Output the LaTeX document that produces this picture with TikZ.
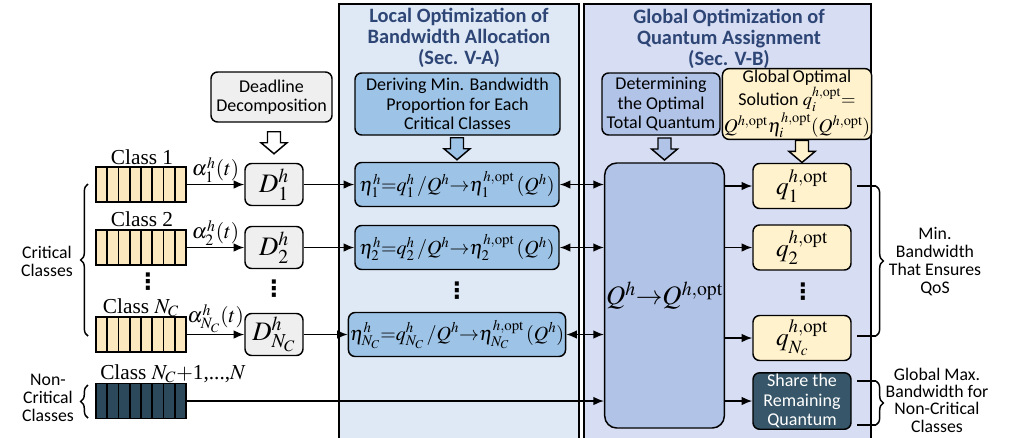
\documentclass[tikz,border=0pt]{standalone}
\usepackage{mathptmx}
\usepackage{fontspec}
\setmainfont{Liberation Serif}
\newfontfamily\calib{Carlito}
\newfontfamily\dvsans{DejaVu Sans}
\usetikzlibrary{arrows.meta,decorations.pathreplacing,calc}

\definecolor{localbg}{HTML}{DFE9F5}
\definecolor{globalbg}{HTML}{D7DDF3}
\definecolor{etablue}{HTML}{9DC3E6}
\definecolor{qblue}{HTML}{B1C3E6}
\definecolor{lightyel}{HTML}{FFF2CC}
\definecolor{queueyel}{HTML}{FCE8BF}
\definecolor{darkslate}{HTML}{2C495B}
\definecolor{sharebg}{HTML}{375669}
\definecolor{boxgray}{HTML}{EFEFEF}
\definecolor{titleblue}{HTML}{2E4676}

\newcommand\sfbody{\calib\fontsize{13.3}{13.5}\selectfont}
\newcommand\sfbox{\calib\fontsize{13.5}{14.6}\selectfont}
\newcommand\sftitle{\calib\bfseries\fontsize{15.3}{15.8}\selectfont}

\tikzset{
  panel/.style={draw=black, line width=1.5pt},
  titletext/.style={align=center, font=\sftitle, text=titleblue, inner sep=0pt},
  box/.style={draw=black, line width=1.1pt, rounded corners=5pt, inner sep=1pt,
    align=center, font=\sfbox},
  graybox/.style={box, fill=boxgray},
  dbox/.style={graybox, minimum width=43.5pt, minimum height=31.5pt,
    font=\fontsize{20}{20}\selectfont},
  etabox/.style={box, fill=etablue, minimum width=153pt, minimum height=33pt,
    font=\fontsize{15}{15}\selectfont},
  qbox/.style={box, fill=lightyel, minimum width=73.5pt, minimum height=33.75pt,
    font=\fontsize{19}{19}\selectfont},
  queue/.style={draw=black, line width=1.3pt, minimum width=67.5pt,
    minimum height=26.25pt, inner sep=0pt,
    path picture={
      \foreach \i in {1,...,7}
        \draw[line width=1.3pt]
          ($(path picture bounding box.north west)!\i/8!(path picture bounding box.north east)$) --
          ($(path picture bounding box.south west)!\i/8!(path picture bounding box.south east)$);
    }},
  classlbl/.style={font=\fontsize{16}{16}\selectfont, inner sep=0pt, anchor=base},
  alphalbl/.style={font=\fontsize{16}{16}\selectfont, inner sep=1pt},
  conn/.style={line width=1.2pt, -{Latex[length=8pt,width=6.5pt]}},
  dconn/.style={line width=1.2pt, {Latex[length=8pt,width=6.5pt]}-{Latex[length=8pt,width=6.5pt]}},
  plainline/.style={line width=1.1pt},
  bracestyle/.style={line width=1.1pt, decorate, decoration={brace, amplitude=5.5pt}},
  sidelabel/.style={align=center, font=\sfbody, inner sep=0pt},
  vdots/.style={font=\dvsans\bfseries\fontsize{17}{17}\selectfont, inner sep=0pt},
  pics/blockdown/.style={code={
    \draw[line width=1.1pt, fill=#1, line join=miter]
      (-6.5,-11) -- (6.5,-11) -- (6.5,0) -- (13,0) -- (0,11) -- (-13,0) -- (-6.5,0) -- cycle;
  }},
  pics/blockdown/.default=white
}

\begin{document}
\begin{tikzpicture}[x=0.75pt, y=-0.75pt]
\useasboundingbox (0,0) rectangle (1017,437);

% the two optimisation stages
\begin{scope}
  \clip (0,0) rectangle (1017,437);
  \draw[panel, fill=localbg] (339,4) rectangle (579,460);
  \draw[panel, fill=globalbg] (584,4) rectangle (871,460);
\end{scope}

\node[titletext] (ltitle) at (459,37.5) {Local Optimization of\\Bandwidth Allocation\\(Sec. V-A)};
\node[titletext] (gtitle) at (729,39) {Global Optimization of\\Quantum Assignment\\(Sec. V-B)};

% upper description boxes
\node[graybox, minimum width=90.75pt, minimum height=37.5pt] (dead) at (271.5,97)
  {Deadline\\Decomposition};
\node[box, fill=etablue, minimum width=153.75pt, minimum height=46.5pt] (derive) at (457.5,104)
  {Deriving Min. Bandwidth\\Proportion for Each\\Critical Classes};
\node[box, fill=qblue, minimum width=88.5pt, minimum height=46.5pt] (determ) at (661,104)
  {Determining\\the Optimal\\Total Quantum};
\node[box, fill=lightyel, minimum width=105pt, minimum height=46.5pt] (globsol) at (797,104)
  {Global\,Optimal\\Solution {\fontsize{14}{14}\selectfont$q_i^{h,\mathrm{opt}}{=}$}\\
   {\fontsize{14.5}{14.5}\selectfont$Q^{h,\mathrm{opt}}\eta_i^{h,\mathrm{opt}}(Q^{h,\mathrm{opt}})$}};

% traffic-class queues
\node[queue, fill=queueyel] (qu1) at (141,184.5) {};
\node[queue, fill=queueyel] (qu2) at (141,247.5) {};
\node[queue, fill=queueyel] (qu3) at (141,334.5) {};
\node[queue, fill=darkslate] (qu4) at (141,401) {};

\node[classlbl] (cl1) at (142,164) {Class 1};
\node[classlbl] (cl2) at (142,226.5) {Class 2};
\node[classlbl] (cl3) at (141,313) {Class $N_C$};
\node[classlbl, anchor=base west] (cl4) at (100,379) {Class $N_C{+}$1,...,$N$};
\node[vdots] (vd0) at (148,282) {⋮};

% deadline decomposition per class
\node[dbox] (d1) at (274,184.5) {$D_1^h$};
\node[dbox] (d2) at (274,247.5) {$D_2^h$};
\node[dbox] (d3) at (274,334.5) {$D_{N_C}^h$};
\node[vdots] (vd1) at (274,289) {⋮};

% local bandwidth proportions
\node[etabox] (eta1) at (457,184.5) {$\eta_1^h{=}q_1^h\,/Q^h{\to}\eta_1^{h,\mathrm{opt}}\,(Q^h)$};
\node[etabox] (eta2) at (457,247.5) {$\eta_2^h{=}q_2^h\,/Q^h{\to}\eta_2^{h,\mathrm{opt}}\,(Q^h)$};
\node[etabox] (eta3) at (457,334.5) {$\eta_{N_C}^h{=}q_{N_C}^h\,/Q^h{\to}\eta_{N_C}^{h,\mathrm{opt}}\,(Q^h)$};
\node[vdots] (vd2) at (457,291) {⋮};

% total quantum
\node[box, fill=qblue, rounded corners=9pt, minimum width=89.25pt, minimum height=198.75pt,
  font=\fontsize{20}{20}\selectfont] (Qbox) at (664.5,295.5) {$Q^h{\to}Q^{h,\mathrm{opt}}$};

% optimal per-class bandwidth
\node[qbox] (qo1) at (802,186) {$q_1^{h,\mathrm{opt}}$};
\node[qbox] (qo2) at (802,247.5) {$q_2^{h,\mathrm{opt}}$};
\node[qbox] (qo3) at (802,338) {$q_{N_c}^{h,\mathrm{opt}}$};
\node[vdots] (vd3) at (803,292) {⋮};
\node[box, fill=sharebg, text=white, minimum width=73.5pt, minimum height=40.5pt] (share) at (802,401)
  {Share the\\Remaining\\Quantum};

% block arrows
\pic at ($(dead.south -| d1.north)!0.5!(d1.north)$) {blockdown=white};
\pic at ($(derive.south -| eta1.north)!0.5!(eta1.north)$) {blockdown=etablue};
\pic at ($(determ.south -| Qbox.north)!0.5!(Qbox.north)$) {blockdown=qblue};
\pic at ($(globsol.south -| qo1.north)!0.5!(qo1.north)$) {blockdown=lightyel};

% queue -> deadline decomposition
\draw[conn] (qu1.east) -- node[alphalbl, above] {$\alpha_1^h(t)$} (d1.west);
\draw[conn] (qu2.east) -- node[alphalbl, above] {$\alpha_2^h(t)$} (d2.west);
\draw[conn] (qu3.east) -- node[alphalbl, above] {$\alpha_{N_C}^h(t)$} (d3.west);

% deadline -> local proportions
\draw[conn] (d1.east) -- (eta1.west);
\draw[conn] (d2.east) -- (eta2.west);
\draw[conn] (d3.east) -- (eta3.west);

% local proportions <-> total quantum
\draw[dconn] (eta1.east) -- (eta1.east -| Qbox.west);
\draw[dconn] (eta2.east) -- (eta2.east -| Qbox.west);
\draw[dconn] (eta3.east) -- (eta3.east -| Qbox.west);
\draw[conn] (qu4.east) -- (qu4.east -| Qbox.west);

% total quantum -> per-class results
\draw[conn] (qo1.west -| Qbox.east) -- (qo1.west);
\draw[conn] (qo2.west -| Qbox.east) -- (qo2.west);
\draw[conn] (qo3.west -| Qbox.east) -- (qo3.west);
\draw[conn] (share.west -| Qbox.east) -- (share.west);

% left braces
\draw[bracestyle] (88,336) -- (88,184);
\draw[bracestyle] (88,418) -- (88,385);
\node[sidelabel] (crit) at (47,261) {Critical\\Classes};
\node[sidelabel] (noncrit) at (48,398) {Non-\\Critical\\Classes};

% right braces
\coordinate (b1t) at (876,186);
\coordinate (b1b) at (876,336);
\coordinate (b2t) at (876,381);
\coordinate (b2b) at (876,425);
\draw[plainline] ([xshift=4pt]qo1.east) -- (b1t);
\draw[plainline] ([xshift=4pt]qo3.east |- b1b) -- (b1b);
\draw[plainline] ([xshift=4pt]share.east |- b2t) -- (b2t);
\draw[plainline] ([xshift=4pt]share.east |- b2b) -- (b2b);
\draw[bracestyle] (b1t) -- (b1b);
\draw[bracestyle] (b2t) -- (b2b);
\node[sidelabel] (minbw) at (935,262) {Min.\\Bandwidth\\That Ensures\\QoS};
\node[sidelabel, font=\calib\fontsize{13.3}{13}\selectfont] (maxbw) at (937,400)
  {Global Max.\\Bandwidth for\\Non-Critical\\Classes};
\end{tikzpicture}
\end{document}
